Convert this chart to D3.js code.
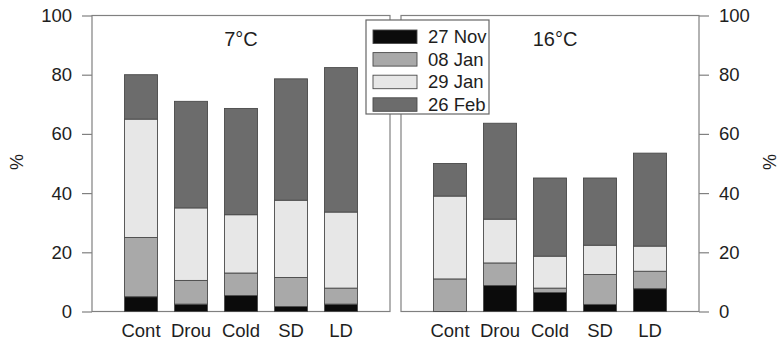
<!DOCTYPE html>
<html>
<head>
<meta charset="utf-8">
<script src="https://cdn.jsdelivr.net/npm/d3@7"></script>
<style>
  body { margin: 0; background: #fff; }
  svg { display: block; font-family: "Liberation Sans", Arial, sans-serif; }
</style>
</head>
<body>
<svg id="chart" width="782" height="343"></svg>
<script>
// categories and series
var categories = ["Cont", "Drou", "Cold", "SD", "LD"];
var seriesNames = ["27 Nov", "08 Jan", "29 Jan", "26 Feb"];
var seriesColours = ["#0b0b0b", "#a9a9a9", "#e7e7e7", "#6c6c6c"];
var yTicks = [0, 20, 40, 60, 80, 100];

// 7°C panel, one array per date (segment heights, %)
var cold7_nov27 = [5.0, 2.5, 5.4, 1.7, 2.5];
var cold7_jan08 = [20.0, 8.0, 7.6, 9.8, 5.4];
var cold7_jan29 = [40.0, 24.5, 19.7, 26.1, 25.7];
var cold7_feb26 = [15.0, 36.0, 35.9, 41.0, 48.8];

// 16°C panel
var warm16_nov27 = [0.0, 8.8, 6.4, 2.4, 7.7];
var warm16_jan08 = [11.0, 7.6, 1.5, 10.1, 5.9];
var warm16_jan29 = [28.0, 14.8, 10.8, 9.9, 8.5];
var warm16_feb26 = [11.0, 32.4, 26.4, 22.7, 31.4];

var panels = [
  {title: "7°C", x0: 92, x1: 390, axis: "left",
   series: [cold7_nov27, cold7_jan08, cold7_jan29, cold7_feb26]},
  {title: "16°C", x0: 401, x1: 699, axis: "right",
   series: [warm16_nov27, warm16_jan08, warm16_jan29, warm16_feb26]}
];

var svg = d3.select("#chart");
var lineCol = "#808080";
var textCol = "#1e1e1e";
var y = d3.scaleLinear().domain([0, 100]).range([311.5, 15.5]);
var barW = 33;

panels.forEach(function(p) {
  // build rows for d3.stack
  var rows = categories.map(function(c, i) {
    var r = {cat: c};
    seriesNames.forEach(function(s, j) { r[s] = p.series[j][i]; });
    return r;
  });
  var stacked = d3.stack().keys(seriesNames)(rows);

  var x = d3.scalePoint().domain(categories).range([p.x0, p.x1]).padding(0.98);

  var g = svg.append("g").attr("class", "panel");

  // frame
  g.append("rect")
    .attr("x", p.x0).attr("y", y(100))
    .attr("width", p.x1 - p.x0).attr("height", y(0) - y(100))
    .attr("fill", "none").attr("stroke", lineCol).attr("stroke-width", 1.2);

  // bars
  g.selectAll("g.layer")
    .data(stacked)
    .enter().append("g").attr("class", "layer")
    .attr("fill", function(d, i) { return seriesColours[i]; })
    .selectAll("rect")
    .data(function(d) { return d; })
    .enter().append("rect")
    .filter(function(d) { return d[1] - d[0] > 0; })
    .attr("x", function(d) { return x(d.data.cat) - barW / 2; })
    .attr("y", function(d) { return y(d[1]); })
    .attr("width", barW)
    .attr("height", function(d) { return y(d[0]) - y(d[1]); })
    .attr("stroke", "#4a4a4a")
    .attr("stroke-width", 0.9);

  // y axis
  var axis = (p.axis == "left" ? d3.axisLeft(y) : d3.axisRight(y))
    .tickValues(yTicks).tickSize(10).tickPadding(10);
  var ax = svg.append("g")
    .attr("transform", "translate(" + (p.axis == "left" ? p.x0 : p.x1) + ",0)")
    .call(axis);
  ax.select(".domain").remove();
  ax.selectAll("line").attr("stroke", lineCol).attr("stroke-width", 1.2);
  ax.selectAll("text").attr("font-size", 18.5).attr("fill", textCol)
    .attr("font-family", "Liberation Sans, Arial, sans-serif");

  // category labels
  g.selectAll("text.cat")
    .data(categories)
    .enter().append("text").attr("class", "cat")
    .attr("x", function(d) { return x(d); })
    .attr("y", 337)
    .attr("text-anchor", "middle")
    .attr("font-size", 18.5)
    .attr("fill", textCol)
    .text(function(d) { return d; });

  // panel title
  g.append("text")
    .attr("x", (p.x0 + p.x1) / 2 + (p.axis == "left" ? 0 : 5))
    .attr("y", 46)
    .attr("text-anchor", "middle")
    .attr("font-size", 20)
    .attr("fill", textCol)
    .text(p.title);
});

// axis titles
svg.append("text")
  .attr("transform", "translate(23,162) rotate(-90)")
  .attr("text-anchor", "middle").attr("font-size", 18).attr("fill", textCol)
  .text("%");
svg.append("text")
  .attr("transform", "translate(763,162) rotate(90)")
  .attr("text-anchor", "middle").attr("font-size", 18).attr("fill", textCol)
  .text("%");

// legend
var leg = svg.append("g").attr("class", "legend");
leg.append("rect")
  .attr("x", 366).attr("y", 20).attr("width", 123).attr("height", 94)
  .attr("fill", "#fff").attr("stroke", "#666").attr("stroke-width", 1.2);
var item = leg.selectAll("g.item")
  .data(seriesNames)
  .enter().append("g").attr("class", "item")
  .attr("transform", function(d, i) { return "translate(373," + (30 + i * 22.6) + ")"; });
item.append("rect")
  .attr("width", 44).attr("height", 13.5)
  .attr("fill", function(d, i) { return seriesColours[i]; })
  .attr("stroke", "#4a4a4a").attr("stroke-width", 0.9);
item.append("text")
  .attr("x", 55).attr("y", 13)
  .attr("font-size", 18.5).attr("fill", textCol)
  .text(function(d) { return d; });
</script>
</body>
</html>
